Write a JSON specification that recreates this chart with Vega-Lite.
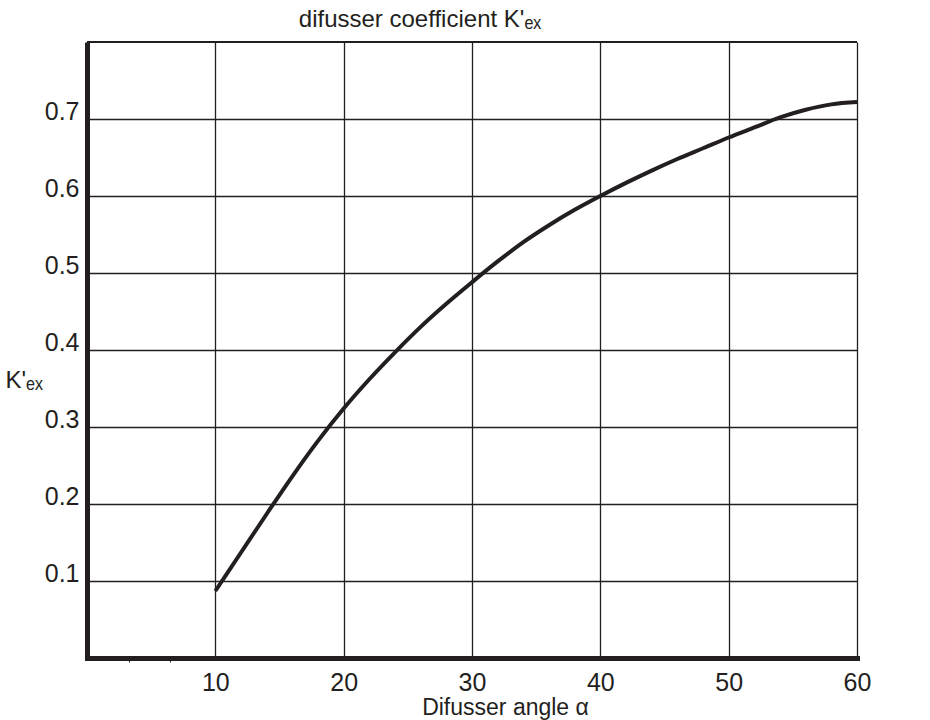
{
  "$schema": "https://vega.github.io/schema/vega-lite/v6.json",
  "width": 770,
  "height": 616,
  "autosize": "none",
  "padding": {"left": 87, "top": 42, "right": 73, "bottom": 62},
  "background": "white",
  "title": {
    "text": "difusser coefficient K'ₑₓ",
    "font": "Liberation Sans",
    "fontSize": 24,
    "fontWeight": "normal",
    "color": "#231f20",
    "anchor": "middle",
    "frame": "group",
    "baseline": "bottom",
    "offset": 10,
    "dx": -52,
    "dy": 25
  },
  "config": {
    "view": {"stroke": null},
    "font": "Liberation Sans"
  },
  "data": {
    "values": [
      {"angle": 10, "k": 0.087},
      {"angle": 12, "k": 0.137},
      {"angle": 14, "k": 0.187},
      {"angle": 16, "k": 0.236},
      {"angle": 18, "k": 0.282},
      {"angle": 20, "k": 0.324},
      {"angle": 22, "k": 0.362},
      {"angle": 24, "k": 0.397},
      {"angle": 26, "k": 0.430},
      {"angle": 28, "k": 0.460},
      {"angle": 30, "k": 0.488},
      {"angle": 32, "k": 0.515},
      {"angle": 34, "k": 0.540},
      {"angle": 36, "k": 0.562},
      {"angle": 38, "k": 0.582},
      {"angle": 40, "k": 0.600},
      {"angle": 42, "k": 0.617},
      {"angle": 44, "k": 0.633},
      {"angle": 46, "k": 0.648},
      {"angle": 48, "k": 0.662},
      {"angle": 50, "k": 0.676},
      {"angle": 52, "k": 0.689},
      {"angle": 54, "k": 0.702},
      {"angle": 56, "k": 0.712},
      {"angle": 58, "k": 0.719},
      {"angle": 60, "k": 0.722}
    ]
  },
  "layer": [
    {
      "mark": {"type": "rule", "color": "#231f20", "strokeWidth": 1.3},
      "encoding": {"y": {"datum": 0.8, "type": "quantitative"}}
    },
    {
      "mark": {"type": "line", "interpolate": "monotone", "strokeWidth": 4, "color": "#231f20", "strokeCap": "butt"},
      "encoding": {
        "x": {
          "field": "angle",
          "type": "quantitative",
          "scale": {"domain": [0, 60], "nice": false, "zero": false},
          "axis": {
            "values": [3.3, 6.5, 10, 20, 30, 40, 50, 60],
            "labelExpr": "datum.value < 10 ? '' : datum.label",
            "title": "Difusser angle α",
            "titleFont": "Liberation Sans",
            "titleFontSize": 23,
            "titleFontWeight": "normal",
            "titleColor": "#231f20",
            "titleAnchor": "start",
            "titleAlign": "center",
            "titleX": 418,
            "titleY": 56,
            "titleBaseline": "alphabetic",
            "labelFont": "Liberation Sans",
            "labelFontSize": 25,
            "labelColor": "#231f20",
            "labelBaseline": "alphabetic",
            "labelPadding": 28,
            "labelFlush": false,
            "labelOverlap": false,
            "domainColor": "#231f20",
            "domainWidth": 5,
            "domainCap": "square",
            "tickColor": "#231f20",
            "tickSize": 4,
            "tickWidth": 1,
            "tickOpacity": {"condition": {"test": "datum.value < 10", "value": 1}, "value": 0},
            "grid": true,
            "gridColor": "#231f20",
            "gridWidth": 1.3,
            "gridOpacity": {"condition": {"test": "datum.value < 10", "value": 0}, "value": 1}
          }
        },
        "y": {
          "field": "k",
          "type": "quantitative",
          "scale": {"domain": [0, 0.8], "nice": false},
          "axis": {
            "values": [0.1, 0.2, 0.3, 0.4, 0.5, 0.6, 0.7],
            "format": ".1f",
            "title": "K'ₑₓ",
            "titleFont": "Liberation Sans",
            "titleFontSize": 24,
            "titleFontWeight": "normal",
            "titleColor": "#231f20",
            "titleAngle": 0,
            "titleAlign": "left",
            "titleBaseline": "alphabetic",
            "titleAnchor": "start",
            "titleX": -82,
            "titleY": 345,
            "labelFont": "Liberation Sans",
            "labelFontSize": 25,
            "labelColor": "#231f20",
            "labelBaseline": "alphabetic",
            "labelPadding": 8,
            "labelFlush": false,
            "labelOverlap": false,
            "ticks": false,
            "domainColor": "#231f20",
            "domainWidth": 5,
            "grid": true,
            "gridColor": "#231f20",
            "gridWidth": 1.3
          }
        }
      }
    }
  ]
}
